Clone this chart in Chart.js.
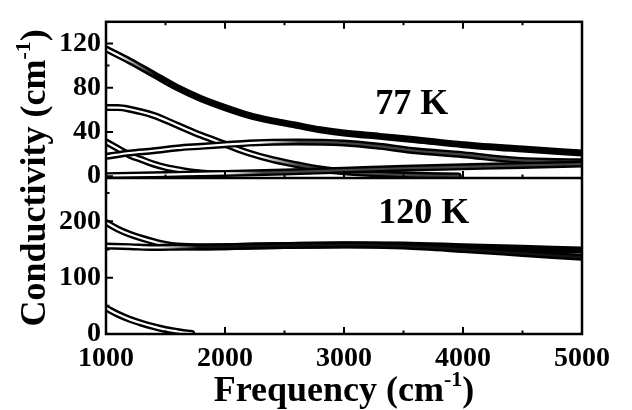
<!DOCTYPE html>
<html lang="en">
<head>
    <meta charset="UTF-8">
    <title>Conductivity</title>
    <script src="https://cdn.jsdelivr.net/npm/chart.js"></script>
    <style>
        * {
            margin: 0;
            padding: 0;
            box-sizing: border-box;
        }
        body {
            background-color: #fff;
            width: 632px;
            height: 410px;
            overflow: hidden;
        }
        #chart {
            display: block;
        }
    </style>
</head>
<body>
    <canvas id="chart" width="632" height="410"></canvas>
    <script>
        // axis ticks
        var freqTicks = [1000, 2000, 3000, 4000, 5000];
        var freqMinor = [1500, 2500, 3500, 4500];
        var lowTicks = [0, 40, 80, 120];
        var lowMinor = [20, 60, 100];
        var highTicks = [0, 100, 200];
        var highMinor = [50, 150, 250];

        // 77 K curves
        var freqA = [1000, 1200, 1400, 1600, 1800, 2000, 2200, 2400, 2600, 2800, 3000, 3300, 3600, 4000, 4500, 5000];
        var sigmaA = [115, 104, 92, 80, 70, 62, 55, 50, 46, 42, 39, 36, 33, 28.5, 24.5, 21];
        var freqB = [1000, 1100, 1200, 1400, 1600, 1800, 2000, 2200, 2400, 2600, 2800, 3000, 3300, 3600, 3960];
        var sigmaB = [62, 62, 60.5, 55, 46, 37, 29, 21, 15, 10.5, 6.5, 4, 2, 0.8, 0.3];
        var freqC = [1000, 1100, 1200, 1300, 1400, 1500, 1600, 1700, 1800, 1900, 2000];
        var sigmaC = [31, 25, 19, 15, 11, 8, 6, 4, 3, 2.3, 2];
        var freqD = [1000, 1200, 1400, 1600, 1800, 2000, 2200, 2600, 3000, 3300, 3600, 4000, 4400, 4700, 5000];
        var sigmaD = [18, 21, 23, 25.5, 27, 28.5, 30, 31, 30, 27, 23, 19.5, 15, 13.5, 13];
        var freqE = [1000, 1500, 2000, 2500, 3000, 3500, 4000, 4500, 5000];
        var sigmaE = [0.5, 1.5, 2.5, 3.8, 5.5, 7.2, 8.5, 9.8, 11];

        // 120 K curves
        var freqF = [1000, 1100, 1200, 1300, 1400, 1500, 1600, 1800, 2000, 2500, 3000, 3500, 4000, 4500, 5000];
        var sigmaF = [198, 186, 177, 170, 164, 159, 156, 154.5, 155, 157, 158.5, 158, 155, 152, 149];
        var freqG = [1000, 1200, 1400, 1600, 2000, 2500, 3000, 3500, 4000, 4500, 5000];
        var sigmaG = [156, 155, 153.5, 154, 155, 157, 158, 156, 150, 143, 136];
        var freqH = [1000, 1100, 1200, 1300, 1400, 1500, 1600, 1700, 1720];
        var sigmaH = [46, 35, 26, 19, 13, 8, 4.5, 1.5, 1];

        function pts(xs, ys) {
            return xs.map(function (x, i) { return { x: x, y: ys[i] }; });
        }

        // inside of the circle band: white where the circles are open, darker where they pile up
        function fillColor(openUntil, tail) {
            return function (ctx) {
                var chart = ctx.chart;
                var area = chart.chartArea;
                if (!area) return '#fff';
                var f = (chart.scales.x.getPixelForValue(openUntil) - area.left) / area.width;
                f = Math.max(0, Math.min(1, f));
                var g = chart.ctx.createLinearGradient(area.left, 0, area.right, 0);
                g.addColorStop(0, '#fff');
                g.addColorStop(f, '#fff');
                g.addColorStop(Math.min(1, f + 0.08), tail);
                g.addColorStop(1, tail);
                return g;
            };
        }

        var curves = [
            { data: pts(freqA, sigmaA), axis: 'yLow', open: 1100, tail: '#000' },
            { data: pts(freqB, sigmaB), axis: 'yLow', open: 2300, tail: '#444' },
            { data: pts(freqC, sigmaC), axis: 'yLow', open: 2000, tail: '#fff' },
            { data: pts(freqD, sigmaD), axis: 'yLow', open: 2300, tail: '#444' },
            { data: pts(freqE, sigmaE), axis: 'yLow', open: 2000, tail: '#444' },
            { data: pts(freqF, sigmaF), axis: 'yHigh', open: 1400, tail: '#000' },
            { data: pts(freqG, sigmaG), axis: 'yHigh', open: 1450, tail: '#111' },
            { data: pts(freqH, sigmaH), axis: 'yHigh', open: 2000, tail: '#fff' }
        ];

        var datasets = [];
        curves.forEach(function (c, i) {
            var common = {
                data: c.data,
                yAxisID: c.axis,
                pointRadius: 0,
                cubicInterpolationMode: 'monotone',
                borderCapStyle: 'round',
                borderJoinStyle: 'round',
                fill: false
            };
            datasets.push(Object.assign({}, common, { borderColor: '#000', borderWidth: 7, order: 100 - 2 * i }));
            datasets.push(Object.assign({}, common, { borderColor: fillColor(c.open, c.tail), borderWidth: 2.2, order: 99 - 2 * i }));
        });

        var serif = '"Liberation Serif", "Times New Roman", serif';

        function supText(ctx, main, sup, tail, x, y, size) {
            ctx.font = 'bold ' + size + 'px ' + serif;
            var w1 = ctx.measureText(main).width;
            var w3 = ctx.measureText(tail).width;
            ctx.font = 'bold ' + Math.round(size * 0.6) + 'px ' + serif;
            var w2 = ctx.measureText(sup).width;
            var x0 = x - (w1 + w2 + w3) / 2;
            ctx.textAlign = 'left';
            ctx.font = 'bold ' + size + 'px ' + serif;
            ctx.fillText(main, x0, y);
            ctx.font = 'bold ' + Math.round(size * 0.6) + 'px ' + serif;
            ctx.fillText(sup, x0 + w1, y - size * 0.42);
            ctx.font = 'bold ' + size + 'px ' + serif;
            ctx.fillText(tail, x0 + w1 + w2, y);
        }

        var framePlugin = {
            id: 'frame',
            afterDatasetsDraw: function (chart) {
                var ctx = chart.ctx;
                var a = chart.chartArea;
                var x = chart.scales.x;
                var lo = chart.scales.yLow;
                var hi = chart.scales.yHigh;
                ctx.save();
                ctx.strokeStyle = '#000';
                ctx.lineWidth = 2.5;
                ctx.strokeRect(a.left, a.top, a.right - a.left, a.bottom - a.top);
                ctx.beginPath();
                ctx.moveTo(a.left, lo.bottom);
                ctx.lineTo(a.right, lo.bottom);
                ctx.stroke();

                // inward tick marks
                ctx.lineWidth = 2;
                ctx.beginPath();
                function xTick(v, len) {
                    var px = x.getPixelForValue(v);
                    ctx.moveTo(px, a.bottom); ctx.lineTo(px, a.bottom - len);
                    ctx.moveTo(px, a.top); ctx.lineTo(px, a.top + len);
                    ctx.moveTo(px, lo.bottom); ctx.lineTo(px, lo.bottom - len);
                }
                freqTicks.forEach(function (v) { xTick(v, 7); });
                freqMinor.forEach(function (v) { xTick(v, 3.5); });
                function yTick(s, v, len) {
                    var py = s.getPixelForValue(v);
                    ctx.moveTo(a.left, py); ctx.lineTo(a.left + len, py);
                }
                lowTicks.forEach(function (v) { yTick(lo, v, 7); });
                lowMinor.forEach(function (v) { yTick(lo, v, 3.5); });
                highTicks.forEach(function (v) { yTick(hi, v, 7); });
                highMinor.forEach(function (v) { yTick(hi, v, 3.5); });
                ctx.stroke();

                // panel labels and axis titles
                ctx.fillStyle = '#000';
                ctx.textBaseline = 'alphabetic';
                ctx.textAlign = 'center';
                ctx.font = 'bold 36px ' + serif;
                ctx.fillText('77 K', x.getPixelForValue(3570), lo.getPixelForValue(56.5));
                ctx.fillText('120 K', x.getPixelForValue(3670), hi.getPixelForValue(196.5));

                supText(ctx, 'Frequency (cm', '-1', ')', (a.left + a.right) / 2, 401, 36);

                ctx.translate(45, (a.top + a.bottom) / 2);
                ctx.rotate(-Math.PI / 2);
                supText(ctx, 'Conductivity (cm', '-1', ')', 0, 0, 36);
                ctx.restore();
            }
        };

        var tickFont = { family: serif, size: 28, weight: 'bold' };
        function plain(v) { return String(v); }

        new Chart(document.getElementById('chart'), {
            type: 'line',
            data: { datasets: datasets },
            options: {
                responsive: false,
                animation: false,
                devicePixelRatio: 1,
                layout: { padding: { left: 0, right: 50, top: 10, bottom: 0 } },
                plugins: {
                    legend: { display: false },
                    tooltip: { enabled: false }
                },
                scales: {
                    x: {
                        type: 'linear',
                        min: 1000,
                        max: 5000,
                        afterBuildTicks: function (s) { s.ticks = freqTicks.map(function (v) { return { value: v }; }); },
                        afterFit: function (s) { s.height = 76; },
                        grid: { display: false, drawTicks: false },
                        border: { display: false },
                        ticks: { font: tickFont, color: '#000', padding: 8, maxRotation: 0, autoSkip: false, callback: plain }
                    },
                    yHigh: {
                        type: 'linear',
                        position: 'left',
                        stack: 'panels',
                        stackWeight: 1,
                        min: 0,
                        max: 277,
                        afterBuildTicks: function (s) { s.ticks = highTicks.map(function (v) { return { value: v }; }); },
                        afterFit: function (s) { s.width = 106; },
                        grid: { display: false, drawTicks: false },
                        border: { display: false },
                        ticks: { font: tickFont, color: '#000', padding: 5, autoSkip: false, callback: plain }
                    },
                    yLow: {
                        type: 'linear',
                        position: 'left',
                        stack: 'panels',
                        stackWeight: 1,
                        min: -1.5,
                        max: 139.5,
                        afterBuildTicks: function (s) { s.ticks = lowTicks.map(function (v) { return { value: v }; }); },
                        afterFit: function (s) { s.width = 106; },
                        grid: { display: false, drawTicks: false },
                        border: { display: false },
                        ticks: { font: tickFont, color: '#000', padding: 5, autoSkip: false, callback: plain }
                    }
                }
            },
            plugins: [framePlugin]
        });
    </script>
</body>
</html>
